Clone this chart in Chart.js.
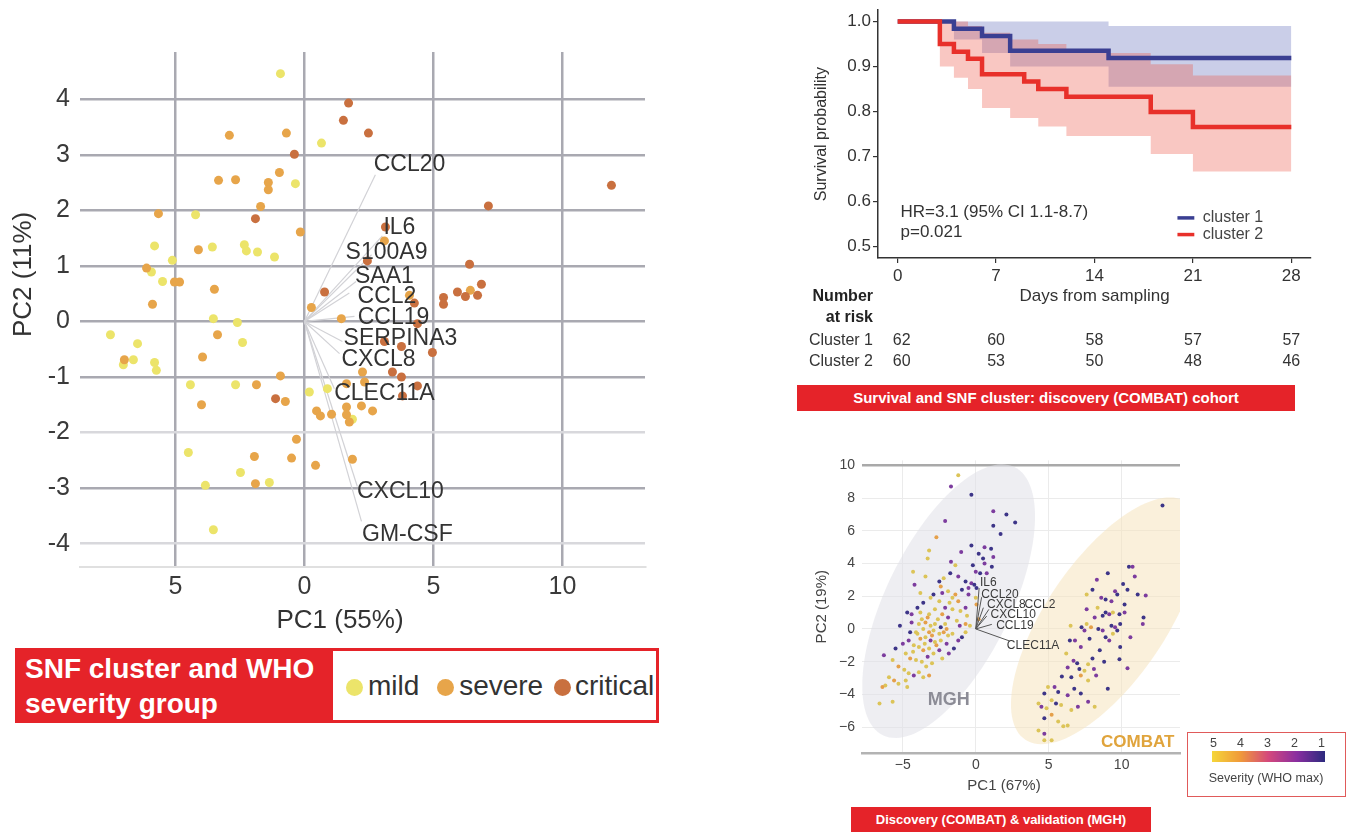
<!DOCTYPE html>
<html>
<head>
<meta charset="utf-8">
<script src="https://cdn.jsdelivr.net/npm/chart.js@4.4.0/dist/chart.umd.min.js"></script>
<style>
  body { margin: 0; width: 1352px; height: 833px; background: #fff; position: relative; overflow: hidden;
         font-family: "Liberation Sans", Arial, sans-serif; color: #333; }
  .abs { position: absolute; }
  canvas { display: block; }
  .banner { position: absolute; background: #e52329; color: #fff; font-weight: bold; text-align: center; }
  .dot { display: inline-block; width: 17px; height: 17px; border-radius: 9px; vertical-align: -1px; }
</style>
</head>
<body>

<div class="abs" style="left:0;top:27px"><canvas id="biplot" width="665" height="613"></canvas></div>
<div class="abs" style="left:0;top:253px;width:44px;height:34px;transform:rotate(-90deg);transform-origin:22px 17px;font-size:26px;white-space:nowrap;text-align:center;line-height:34px">
  <span style="position:relative;left:-45px">PC2 (11%)</span></div>
<div class="abs" style="left:240px;top:604px;width:200px;text-align:center;font-size:26px">PC1 (55%)</div>

<div class="abs" style="left:15px;top:648px;width:316px;height:75px;background:#e52329;color:#fff;font-weight:bold;font-size:28px;line-height:35px;padding:3px 10px;box-sizing:border-box;white-space:nowrap">SNF cluster and WHO<br>severity group</div>
<div class="abs" style="left:330px;top:648px;width:329px;height:75px;border:3px solid #e52329;box-sizing:border-box;font-size:28px;line-height:69px;white-space:nowrap">
  <span class="dot" style="background:#ece46a;margin-left:13px"></span><span style="margin-left:5px">mild</span>
  <span class="dot" style="background:#e7a54a;margin-left:10px"></span><span style="margin-left:5px">severe</span>
  <span class="dot" style="background:#c9703f;margin-left:3px"></span><span style="margin-left:4px">critical</span>
</div>

<div class="abs" style="left:780px;top:-2px"><canvas id="km" width="560" height="422"></canvas></div>
<div class="banner" style="left:797px;top:385px;width:498px;height:26px;line-height:26px;font-size:15px">Survival and SNF cluster: discovery (COMBAT) cohort</div>

<div class="abs" style="left:800px;top:445px"><canvas id="pca" width="390" height="360"></canvas></div>
<div class="banner" style="left:851px;top:807px;width:300px;height:25px;line-height:25px;font-size:13px">Discovery (COMBAT) &amp; validation (MGH)</div>

<div class="abs" style="left:1187px;top:732px;width:159px;height:65px;border:1.5px solid #e05a5a;box-sizing:border-box;font-size:12.5px;color:#444">
  <div class="abs" style="left:20px;top:3px;width:120px;font-size:12.5px">
    <span class="abs" style="left:2px">5</span><span class="abs" style="left:29px">4</span><span class="abs" style="left:56px">3</span><span class="abs" style="left:83px">2</span><span class="abs" style="left:110px">1</span>
  </div>
  <div class="abs" style="left:24px;top:18px;width:113px;height:11px;background:linear-gradient(to right,#f5d63a,#f09a3a,#d4487c,#8a2ea0,#2c2a7e)"></div>
  <div class="abs" style="left:0;top:38px;width:156px;text-align:center">Severity (WHO max)</div>
</div>

<script>
// ---------- left panel: PCA biplot (PC1 vs PC2) ----------
const mildPoints = [
  [-0.93,4.46],[0.66,3.21],[-0.35,2.48],[-4.22,1.92],[-5.81,1.36],[-3.57,1.34],[-2.33,1.38],[-2.25,1.27],
  [-1.82,1.25],[-1.16,1.16],[-5.12,1.10],[-5.93,0.89],[-5.50,0.72],[-3.53,0.05],[-2.60,-0.02],[-7.52,-0.24],
  [-6.47,-0.40],[-2.40,-0.38],[-7.02,-0.78],[-6.63,-0.69],[-5.81,-0.74],[-5.74,-0.88],[-4.42,-1.14],[-2.67,-1.14],
  [0.19,-1.27],[0.89,-1.21],[-4.50,-2.36],[-2.48,-2.72],[-3.84,-2.95],[-1.36,-2.90],[-3.53,-3.75],[1.86,-1.76]
];
const severePoints = [
  [-2.91,3.35],[-0.70,3.39],[-3.33,2.54],[-2.67,2.55],[-0.97,2.68],[-1.40,2.50],[-1.40,2.37],[-1.70,2.07],
  [-0.16,1.61],[-5.66,1.94],[-4.11,1.29],[-6.12,0.96],[-5.04,0.71],[-4.84,0.71],[-3.49,0.58],[-5.89,0.31],
  [-3.37,-0.24],[0.27,0.25],[-6.98,-0.69],[-3.95,-0.64],[-1.86,-1.14],[-0.93,-0.98],[-0.74,-1.44],[-3.99,-1.50],
  [0.47,-1.61],[0.62,-1.70],[-0.31,-2.12],[-1.94,-2.43],[-0.50,-2.46],[0.43,-2.59],[-1.90,-2.92],[3.10,1.45],
  [1.43,0.05],[4.07,0.47],[6.43,0.56],[2.25,-0.91],[2.33,-1.09],[1.63,-1.12],[1.05,-1.67],[1.63,-1.54],
  [1.63,-1.68],[1.74,-1.81],[2.21,-1.52],[2.64,-1.61],[1.86,-2.48]
];
const criticalPoints = [
  [-0.39,3.01],[-1.90,1.85],[0.78,0.53],[1.71,3.93],[1.51,3.62],[2.48,3.39],[11.9,2.45],[7.13,2.08],
  [3.14,1.70],[2.44,1.09],[6.40,1.03],[6.86,0.67],[5.93,0.53],[6.24,0.45],[6.71,0.47],[5.39,0.43],
  [5.39,0.31],[4.26,0.33],[4.38,-0.04],[3.10,-0.36],[3.76,-0.45],[4.96,-0.56],[3.41,-0.91],[3.76,-1.0],
  [3.80,-1.34],[4.38,-1.16],[-1.12,-1.39]
];
const geneNames = ['CCL20','IL6','S100A9','SAA1','CCL2','CCL19','SERPINA3','CXCL8','CLEC11A','CXCL10','GM-CSF'];
const geneEndX = [2.75,3.02,2.6,2.0,1.74,1.94,1.47,1.36,1.16,2.05,2.21];
const geneEndY = [2.64,1.54,1.2,0.72,0.51,0.09,-0.36,-0.58,-1.21,-2.97,-3.6];
const geneLabelX = [4.07,3.68,3.18,3.1,3.2,3.45,3.72,2.87,3.1,3.72,3.99];
const geneLabelY = [2.83,1.68,1.23,0.81,0.45,0.07,-0.31,-0.69,-1.30,-3.06,-3.84];

// ---------- top right: Kaplan-Meier by SNF cluster ----------
const kmDays1 = [0,4,6,8,15,28];
const kmSurv1 = [1,0.984,0.968,0.935,0.919,0.919];
const ciDays1 = [0,4,6,8,15,28];
const ciUpper1 = [1,1,1,1,0.99,0.99];
const ciLower1 = [1,0.96,0.93,0.90,0.855,0.855];
const kmDays2 = [0,3,4,5,6,9,10,12,18,21,28];
const kmSurv2 = [1,0.95,0.933,0.917,0.883,0.867,0.85,0.833,0.799,0.766,0.766];
const ciDays2 = [0,3,4,5,6,8,10,12,18,21,28];
const ciUpper2 = [1,1,1,0.99,0.975,0.96,0.95,0.93,0.905,0.88,0.88];
const ciLower2 = [1,0.90,0.875,0.85,0.808,0.786,0.767,0.746,0.706,0.667,0.667];
const riskDays = [0,7,14,21,28];
const riskCluster1 = [62,60,58,57,57];
const riskCluster2 = [60,53,50,48,46];
const hrText = 'HR=3.1 (95% CI 1.1-8.7)';
const pText = 'p=0.021';

// ---------- bottom right: COMBAT & MGH PCA, [PC1, PC2, WHO max severity] ----------
const mghPoints = [
  [-1.2,9.4,5],[-1.7,8.7,2],[-0.3,8.2,1],[1.2,7.2,2],[2.1,7.0,1],[2.7,6.5,1],[-2.1,6.6,2],[1.2,6.3,1],
  [1.7,5.8,1],[-2.7,5.6,4],[-0.3,5.1,1],[0.6,5.0,2],[1.05,4.9,1],[-1.0,4.7,2],[0.2,4.6,1],[1.2,4.4,2],
  [-3.2,4.8,5],[0.5,4.3,1],[0.6,4.0,2],[-3.3,4.3,5],[-1.7,4.1,2],[-1.4,3.9,5],[-0.2,3.9,1],[0.0,3.5,2],
  [0.3,3.4,1],[0.75,3.4,2],[1.1,3.8,1],[-1.75,3.4,1],[-2.2,3.1,5],[-1.2,3.2,2],[-2.5,2.9,1],[-3.45,3.2,5],
  [-4.2,2.7,2],[-0.7,2.9,1],[-0.3,2.8,2],[-0.1,2.7,1],[-0.5,2.5,2],[0.05,2.5,1],[-0.95,2.4,1],[-1.9,2.3,5],
  [-2.3,2.2,2],[-1.4,2.1,4],[-2.9,2.1,1],[-3.1,1.9,5],[-1.6,1.9,5],[-1.2,1.7,4],[-0.5,2.1,2],[0,1.9,5],
  [0.05,1.5,4],[-2.5,1.7,5],[-3.6,1.6,1],[-2.1,1.3,2],[-2.8,1.2,5],[-1.6,1.2,5],[-1.05,1.1,5],[-0.7,1.3,2],
  [-4.7,1.0,1],[-4.4,0.9,2],[-3.8,1.0,5],[-3.2,0.9,5],[-2.3,0.9,4],[-1.9,0.7,2],[-1.3,0.5,5],[-0.7,0.3,4],
  [-5.2,0.2,1],[-4.4,0.4,2],[-3.9,0.3,5],[-3.45,0.4,4],[-3.1,0.2,5],[-2.8,0.3,5],[-2.4,0.1,1],[-2.1,0.3,5],
  [-3.6,0,5],[-3.2,-0.2,4],[-2.9,-0.1,5],[-2.5,-0.3,5],[-2.2,-0.2,4],[-1.9,-0.4,5],[-4.0,-0.3,5],[-3.8,-0.6,4],
  [-3.45,-0.5,5],[-3.1,-0.7,2],[-2.8,-0.8,5],[-2.4,-0.7,5],[-2.0,-0.9,2],[-4.6,-0.7,2],[-4.25,-1.0,5],[-3.9,-1.1,5],
  [-3.6,-1.3,4],[-3.2,-1.2,5],[-2.9,-1.5,5],[-2.5,-1.3,2],[-5.5,-1.2,1],[-6.3,-1.6,2],[-4.8,-1.5,5],[-4.5,-1.8,4],
  [-4.1,-1.9,5],[-3.7,-2.0,5],[-3.3,-1.7,2],[-3.0,-2.1,5],[-5.7,-1.9,5],[-5.3,-2.3,4],[-4.9,-2.5,5],[-4.6,-2.7,5],
  [-4.25,-2.85,2],[-3.9,-2.65,5],[-3.6,-2.95,5],[-3.2,-2.85,4],[-5.95,-2.95,5],[-5.6,-3.15,4],[-5.3,-3.35,5],[-6.2,-3.45,5],
  [-4.8,-3.15,5],[-6.4,-3.55,4],[-4.7,-3.55,5],[-6.6,-4.55,5],[-5.7,-4.45,5],[-1.85,-1.5,2],[-1.5,-1.2,1],[-1.2,-0.7,2],
  [-0.95,-0.5,1],[-0.7,-0.2,5],[-0.4,0.2,5],[0.2,0.6,4],[-3.5,-0.9,5],[-3.0,-0.4,4],[-2.6,0.6,5],[-3.3,0.7,4],
  [-4.1,-0.2,5],[-3.7,0.6,5],[-2.7,-1.0,4],[-4.3,-1.4,5],[-3.4,-2.3,5],[-2.3,-1.8,5],[-2.0,0.0,4],[-1.6,-0.3,5],
  [-1.1,0.2,2],[-0.6,0.8,5],[-1.8,1.6,5],[-2.4,2.6,4],[-3.8,2.2,5],[-4.3,3.5,5],[-4.5,-0.2,1],[-5.0,-0.9,2],[-4.0,1.3,1]
];
const combatPoints = [
  [12.8,7.55,1],[10.5,3.8,1],[10.75,3.8,2],[9.05,3.4,1],[10.9,3.2,2],[10.1,2.75,1],[9.55,2.3,2],[9.7,2.1,1],
  [8.0,2.4,1],[7.6,2.1,5],[11.1,2.1,1],[11.65,2.05,2],[8.6,1.9,2],[8.9,1.8,1],[10.2,1.5,1],[9.3,1.7,2],
  [8.35,1.3,5],[8.9,1.0,1],[9.15,0.9,2],[9.4,1.0,5],[8.7,0.8,1],[8.15,0.7,2],[9.85,0.9,1],[10.2,1.0,2],
  [11.5,0.7,1],[11.45,0.3,2],[7.6,0.3,5],[7.25,0.1,1],[7.45,-0.1,2],[7.9,0.1,4],[8.4,0,1],[8.7,-0.1,2],
  [9.3,0.2,1],[9.55,0.1,2],[9.7,-0.1,1],[9.4,-0.3,5],[8.9,-0.5,1],[9.15,-0.7,2],[7.8,-0.6,1],[6.5,0.2,5],
  [6.8,-0.7,2],[6.45,-0.7,1],[9.9,-1.1,1],[7.2,-1.1,2],[8.5,-1.3,1],[9.85,-1.85,1],[6.7,-1.95,2],[6.95,-2.1,1],
  [7.7,-2.15,5],[6.3,-2.35,2],[7.1,-2.45,1],[7.45,-2.55,5],[8.1,-2.45,2],[6.55,-2.95,1],[7.2,-2.85,4],[8.25,-2.85,2],
  [9.05,-3.65,1],[6.75,-3.65,1],[7.7,-3.15,5],[5.4,-3.55,2],[5.65,-3.85,1],[4.95,-3.55,5],[4.7,-3.95,1],[6.3,-4.05,2],
  [5.2,-4.35,5],[5.5,-4.55,1],[4.3,-4.55,5],[4.5,-4.75,2],[5.85,-4.65,5],[4.85,-4.85,5],[7.0,-4.75,2],[8.15,-4.75,5],
  [5.2,-5.25,4],[4.7,-5.45,1],[5.65,-5.65,5],[6.0,-5.95,5],[4.3,-6.2,5],[4.7,-6.4,2],[4.7,-6.8,5],[5.2,-6.8,5],
  [6.3,-5.9,5],[7.2,-3.95,1],[7.7,-4.45,2],[6.55,-4.95,5],[10.4,2.4,1],[8.3,3.0,2],[9.9,0.3,1],[10.6,-0.5,2],
  [8.0,-1.8,1],[6.2,-1.5,5],[5.9,-2.9,1],[7.6,1.2,2],[8.8,-2.0,1],[10.4,-2.4,2]
];
const pcaGenes = ['IL6','CCL20','CXCL8','CCL2','CXCL10','CCL19','CLEC11A'];
const pcaGeneEndX = [0.23,0.4,0.52,0.9,0.75,1.1,2.3];
const pcaGeneEndY = [2.5,1.94,1.3,1.2,0.79,0.28,-0.73];
const pcaLabelX = [0.86,1.66,2.1,4.4,2.57,2.68,3.93];
const pcaLabelY = [2.81,2.1,1.5,1.5,0.89,0.18,-1.03];
// confidence ellipses: centre + cos(t)*a + sin(t)*b, in PC units
const cohortEllipses = [
  { name: 'MGH', cx: -1.86, cy: 1.7, ax: 4.5, ay: 8.2, bx: 3.85, by: -1.64, color: 'rgba(224,224,232,0.55)' },
  { name: 'COMBAT', cx: 8.9, cy: 0.5, ax: 5.5, ay: 7.27, bx: 3.44, by: -2.0, color: 'rgba(246,228,190,0.55)' }
];
const cohortLabels = [
  { text: 'MGH', x: -1.85, y: -4.36, color: '#8c8c96', size: 18 },
  { text: 'COMBAT', x: 11.1, y: -6.9, color: '#e0a43c', size: 17 }
];
const severityColors = { 5: '#dcc458', 4: '#e5a04a', 3: '#c8507e', 2: '#7c3c9e', 1: '#3d3588' };

const FONT = '"Liberation Sans", Arial, sans-serif';
Chart.defaults.font.family = FONT;
Chart.defaults.color = '#333';

const toXY = arr => arr.map(p => ({ x: p[0], y: p[1] }));
const zip = (xs, ys) => xs.map((x, i) => ({ x: x, y: ys[i] }));

// loadings arrows + gene labels for the biplot
const biplotGenes = {
  id: 'biplotGenes',
  beforeDatasetsDraw(chart) {
    const { ctx, scales: { x, y } } = chart;
    ctx.save();
    ctx.strokeStyle = '#d2d2d6';
    ctx.lineWidth = 1.2;
    geneNames.forEach((g, i) => {
      ctx.beginPath();
      ctx.moveTo(x.getPixelForValue(0), y.getPixelForValue(0));
      ctx.lineTo(x.getPixelForValue(geneEndX[i]), y.getPixelForValue(geneEndY[i]));
      ctx.stroke();
    });
    ctx.restore();
  },
  afterDatasetsDraw(chart) {
    const { ctx, scales: { x, y } } = chart;
    ctx.save();
    ctx.font = '23px ' + FONT;
    ctx.fillStyle = '#333';
    ctx.textAlign = 'center';
    ctx.textBaseline = 'middle';
    geneNames.forEach((g, i) => {
      ctx.fillText(g, x.getPixelForValue(geneLabelX[i]), y.getPixelForValue(geneLabelY[i]));
    });
    ctx.restore();
  }
};

new Chart(document.getElementById('biplot'), {
  type: 'scatter',
  data: {
    datasets: [
      { label: 'critical', data: toXY(criticalPoints), backgroundColor: '#c9703f' },
      { label: 'severe', data: toXY(severePoints), backgroundColor: '#e7a54a' },
      { label: 'mild', data: toXY(mildPoints), backgroundColor: '#ece46a' }
    ]
  },
  options: {
    responsive: false,
    animation: false,
    events: [],
    layout: { padding: { top: 10, right: 20, bottom: 0, left: 0 } },
    elements: { point: { radius: 4.5, borderWidth: 0 } },
    plugins: { legend: { display: false }, tooltip: { enabled: false } },
    scales: {
      x: {
        type: 'linear', min: -8.7, max: 13.2,
        afterFit(s) { s.height = 73; },
        ticks: { stepSize: 5, includeBounds: false, font: { size: 25 }, color: '#3a3a3a', padding: 5,
                 callback: v => v < 0 ? String(-v) : String(v) },
        grid: { color: '#a9a9b1', lineWidth: 2.5, drawTicks: false },
        border: { display: true, color: '#e0e0e0', width: 2 }
      },
      y: {
        min: -4.42, max: 4.85,
        afterFit(s) { s.width = 80; },
        ticks: { stepSize: 1, includeBounds: false, font: { size: 25 }, color: '#3a3a3a', padding: 10 },
        grid: {
          color: c => (c.tick && (c.tick.value === -2 || c.tick.value === -4)) ? '#d8d8dc' : '#a9a9b1',
          lineWidth: 2.5, drawTicks: false
        },
        border: { display: false }
      }
    }
  },
  plugins: [biplotGenes]
});

// HR text, legend and number-at-risk table (table rows in canvas px)
const kmExtras = {
  id: 'kmExtras',
  afterDraw(chart) {
    const { ctx, chartArea, scales: { x, y } } = chart;
    ctx.save();
    ctx.font = '17px ' + FONT;
    ctx.fillStyle = '#333';
    ctx.textBaseline = 'middle';
    ctx.textAlign = 'left';
    ctx.fillText(hrText, x.getPixelForValue(0.2), y.getPixelForValue(0.577));
    ctx.fillText(pText, x.getPixelForValue(0.2), y.getPixelForValue(0.533));

    ctx.font = '16px ' + FONT;
    const legend = [['cluster 1', '#3a3f92', 0.564], ['cluster 2', '#e8302a', 0.527]];
    legend.forEach(([t, c, v]) => {
      const py = y.getPixelForValue(v);
      ctx.strokeStyle = c;
      ctx.lineWidth = 3.5;
      ctx.beginPath();
      ctx.moveTo(x.getPixelForValue(19.9), py);
      ctx.lineTo(x.getPixelForValue(21.1), py);
      ctx.stroke();
      ctx.fillStyle = '#444';
      ctx.fillText(t, x.getPixelForValue(21.7), py);
    });

    const lx = chartArea.left - 5;
    ctx.textAlign = 'right';
    ctx.fillStyle = '#222';
    ctx.font = 'bold 16px ' + FONT;
    ctx.fillText('Number', lx, 299);
    ctx.fillText('at risk', lx, 320);
    ctx.font = '16px ' + FONT;
    ctx.fillStyle = '#333';
    ctx.fillText('Cluster 1', lx, 343);
    ctx.fillText('Cluster 2', lx, 364);
    ctx.textAlign = 'center';
    riskDays.forEach((d, i) => {
      const px = x.getPixelForValue(d) + (i === 0 ? 4 : 0);
      ctx.fillText(String(riskCluster1[i]), px, 343);
      ctx.fillText(String(riskCluster2[i]), px, 364);
    });
    ctx.restore();
  }
};

const kmLine = (days, surv, color) => ({
  data: zip(days, surv), borderColor: color, borderWidth: 4.5, stepped: true,
  pointRadius: 0, fill: false, borderCapStyle: 'butt'
});
const kmBand = (days, vals, fill, color) => ({
  data: zip(days, vals), borderWidth: 0, borderColor: 'rgba(0,0,0,0)', stepped: true,
  pointRadius: 0, fill: fill, backgroundColor: color
});

new Chart(document.getElementById('km'), {
  type: 'line',
  data: {
    datasets: [
      kmLine(kmDays2, kmSurv2, '#e8302a'),
      kmLine(kmDays1, kmSurv1, '#3a3f92'),
      kmBand(ciDays2, ciUpper2, '+1', 'rgba(238,85,70,0.33)'),
      kmBand(ciDays2, ciLower2, false, 'rgba(0,0,0,0)'),
      kmBand(ciDays1, ciUpper1, '+1', 'rgba(95,105,185,0.33)'),
      kmBand(ciDays1, ciLower1, false, 'rgba(0,0,0,0)')
    ]
  },
  options: {
    responsive: false,
    animation: false,
    events: [],
    layout: { padding: { top: 0, right: 29, bottom: 112, left: 0 } },
    plugins: { legend: { display: false }, tooltip: { enabled: false } },
    scales: {
      x: {
        type: 'linear', min: -1.4, max: 29.4,
        afterFit(s) { s.height = 50; },
        ticks: { stepSize: 7, includeBounds: false, font: { size: 17 }, color: '#333', padding: 3 },
        grid: { drawOnChartArea: false, drawTicks: true, tickLength: 5, color: '#333', lineWidth: 1.2 },
        border: { display: true, color: '#333', width: 1.5 },
        title: { display: true, text: 'Days from sampling', font: { size: 17 }, color: '#333',
                 padding: { top: 0, bottom: 1 } }
      },
      y: {
        min: 0.475, max: 1.025,
        afterFit(s) { s.width = 98; },
        ticks: { stepSize: 0.1, includeBounds: false, font: { size: 17 }, color: '#333', padding: 2,
                 callback: v => Number(v).toFixed(1) },
        grid: { drawOnChartArea: false, drawTicks: true, tickLength: 5, color: '#333', lineWidth: 1.2 },
        border: { display: true, color: '#333', width: 1.5 },
        title: { display: true, text: 'Survival probability', font: { size: 16 }, color: '#333',
                 padding: { top: 32, bottom: 0 } }
      }
    }
  },
  plugins: [kmExtras]
});

// ellipses under the points, loadings and cohort names on top
const pcaExtras = {
  id: 'pcaExtras',
  beforeDatasetsDraw(chart) {
    const { ctx, chartArea: a, scales: { x, y } } = chart;
    ctx.save();
    ctx.beginPath();
    ctx.rect(a.left, a.top, a.width, a.height);
    ctx.clip();
    cohortEllipses.forEach(e => {
      ctx.beginPath();
      for (let i = 0; i <= 120; i++) {
        const t = i / 120 * Math.PI * 2;
        const px = x.getPixelForValue(e.cx + Math.cos(t) * e.ax + Math.sin(t) * e.bx);
        const py = y.getPixelForValue(e.cy + Math.cos(t) * e.ay + Math.sin(t) * e.by);
        if (i === 0) ctx.moveTo(px, py); else ctx.lineTo(px, py);
      }
      ctx.closePath();
      ctx.fillStyle = e.color;
      ctx.fill();
    });
    ctx.restore();
  },
  afterDatasetsDraw(chart) {
    const { ctx, scales: { x, y } } = chart;
    ctx.save();
    ctx.strokeStyle = '#555';
    ctx.lineWidth = 1;
    pcaGenes.forEach((g, i) => {
      ctx.beginPath();
      ctx.moveTo(x.getPixelForValue(0), y.getPixelForValue(0));
      ctx.lineTo(x.getPixelForValue(pcaGeneEndX[i]), y.getPixelForValue(pcaGeneEndY[i]));
      ctx.stroke();
    });
    ctx.font = '12px ' + FONT;
    ctx.fillStyle = '#3a3a3a';
    ctx.textAlign = 'center';
    ctx.textBaseline = 'middle';
    pcaGenes.forEach((g, i) => {
      ctx.fillText(g, x.getPixelForValue(pcaLabelX[i]), y.getPixelForValue(pcaLabelY[i]));
    });
    cohortLabels.forEach(l => {
      ctx.font = 'bold ' + l.size + 'px ' + FONT;
      ctx.fillStyle = l.color;
      ctx.fillText(l.text, x.getPixelForValue(l.x), y.getPixelForValue(l.y));
    });
    ctx.font = '15px ' + FONT;
    ctx.fillStyle = '#444';
    ctx.fillText('PC1 (67%)', 204, 341);
    ctx.restore();
  }
};

const sevPoint = ([x, y, s]) => ({ x: x, y: y, s: s });
const negLabel = v => v < 0 ? '\u2212' + (-v) : String(v);

new Chart(document.getElementById('pca'), {
  type: 'scatter',
  data: {
    datasets: [
      { label: 'MGH', data: mghPoints.map(sevPoint), pointBackgroundColor: c => severityColors[c.raw.s] },
      { label: 'COMBAT', data: combatPoints.map(sevPoint), pointBackgroundColor: c => severityColors[c.raw.s] }
    ]
  },
  options: {
    responsive: false,
    animation: false,
    events: [],
    layout: { padding: { top: 13, right: 10, bottom: 16, left: 0 } },
    elements: { point: { radius: 2, borderWidth: 0 } },
    plugins: { legend: { display: false }, tooltip: { enabled: false } },
    scales: {
      x: {
        type: 'linear', min: -7.8, max: 14.0,
        afterFit(s) { s.height = 36; },
        ticks: { stepSize: 5, includeBounds: false, font: { size: 14 }, color: '#444', padding: 4, callback: negLabel },
        grid: { color: '#ebebeb', lineWidth: 1, drawTicks: false },
        border: { display: true, color: '#b3b3b3', width: 2.5 }
      },
      y: {
        min: -7.58, max: 10.3,
        afterFit(s) { s.width = 62; },
        ticks: { stepSize: 2, includeBounds: false, font: { size: 14 }, color: '#444', padding: 7, callback: negLabel },
        grid: {
          color: c => (c.tick && c.tick.value === 10) ? '#a9a9a9' : '#ebebeb',
          lineWidth: c => (c.tick && c.tick.value === 10) ? 2.5 : 1,
          drawTicks: false
        },
        border: { display: false },
        title: { display: true, text: 'PC2 (19%)', font: { size: 15 }, color: '#444', padding: { top: 13, bottom: 0 } }
      }
    }
  },
  plugins: [pcaExtras]
});
</script>
</body>
</html>
